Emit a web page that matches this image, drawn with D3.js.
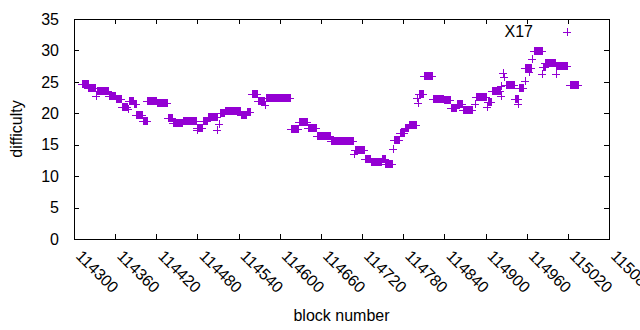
<!DOCTYPE html>
<html>
<head>
<meta charset="utf-8">
<script src="https://cdn.jsdelivr.net/npm/d3@7"></script>
<style>
  body { margin: 0; background: #fff; }
  text { font-family: "Liberation Sans", Arial, sans-serif; fill: #000; }
</style>
</head>
<body>
<div id="chart"></div>
<script>
// runs of consecutive blocks sharing one difficulty
const runStart = [
  114312, 114321, 114332, 114333, 114351, 114361, 114370, 114379, 114380, 114387,
  114391, 114400, 114407, 114421, 114437, 114444, 114459, 114479, 114480, 114488,
  114495, 114509, 114511, 114513, 114520, 114543, 114552, 114560, 114568, 114578,
  114580, 114616, 114628, 114641, 114654, 114674, 114708, 114709, 114724, 114733,
  114749, 114754, 114765, 114766, 114775, 114782, 114788, 114800, 114802, 114803,
  114810, 114823, 114839, 114850, 114858, 114867, 114885, 114886, 114902, 114903,
  114909, 114922, 114923, 114926, 114927, 114930, 114943, 114948, 114949, 114957,
  114958, 114963, 114968, 114971, 114983, 114984, 114987, 115002, 115003, 115023
];
const runEnd = [
  114320, 114331, 114332, 114350, 114360, 114369, 114377, 114379, 114386, 114390,
  114399, 114406, 114420, 114436, 114443, 114457, 114478, 114479, 114487, 114494,
  114508, 114509, 114511, 114519, 114542, 114551, 114557, 114567, 114577, 114578,
  114615, 114627, 114640, 114653, 114673, 114707, 114708, 114723, 114732, 114748,
  114753, 114764, 114765, 114774, 114781, 114787, 114799, 114800, 114802, 114809,
  114822, 114838, 114848, 114857, 114866, 114880, 114885, 114901, 114902, 114908,
  114921, 114922, 114923, 114926, 114927, 114942, 114947, 114948, 114955, 114957,
  114966, 114963, 114968, 114982, 114983, 114986, 115001, 115002, 115019, 115035
];
const runDifficulty = [
  24.7, 24.1, 22.8, 23.6, 22.8, 22.2, 21.0, 20.7, 21.9, 21.4,
  19.75, 18.7, 22.0, 21.65, 19.3, 18.5, 18.85, 17.3, 17.6, 18.7,
  19.4, 17.3, 18.3, 20.1, 20.3, 19.7, 20.2, 23.0, 22.0, 21.3,
  22.45, 17.5, 18.55, 17.6, 16.4, 15.6, 13.5, 14.2, 12.8, 12.3,
  12.8, 12.0, 14.3, 15.7, 16.8, 17.7, 18.2, 22.4, 21.6, 23.1,
  25.95, 22.3, 22.1, 20.9, 21.4, 20.5, 21.5, 22.65, 21.0, 21.8,
  23.5, 24.4, 22.8, 26.4, 25.8, 24.5, 22.2, 21.5, 24.0, 25.2,
  27.2, 26.6, 28.6, 29.9, 26.3, 27.4, 27.95, 26.3, 27.45, 24.5
];

const xTicks = d3.range(114300, 115081, 60);
const yTicks = [0, 5, 10, 15, 20, 25, 30, 35];
const seriesName = 'X17';

const width = 640;
const height = 330;
const margin = { left: 74, top: 19, right: 31, bottom: 91 };
const purple = '#9400d3';

// one point per block
const points = [];
runStart.forEach((s, i) => {
  for (let b = s; b <= runEnd[i]; b++) {
    points.push({ block: b, difficulty: runDifficulty[i] });
  }
});

const xScale = d3.scaleLinear()
  .domain([114300, 115080])
  .range([margin.left, width - margin.right]);
const yScale = d3.scaleLinear()
  .domain([0, 35])
  .range([height - margin.bottom, margin.top]);

const svg = d3.select('#chart')
  .append('svg')
  .attr('width', width)
  .attr('height', height);

const x0 = margin.left, x1 = width - margin.right;
const y0 = height - margin.bottom, y1 = margin.top;
const tickLen = 5;

const axes = svg.append('g')
  .attr('stroke', '#000')
  .attr('stroke-width', 1)
  .attr('shape-rendering', 'crispEdges');

// ticks on all four sides, pointing in
xTicks.forEach(t => {
  const x = Math.round(xScale(t)) + 0.5;
  axes.append('line').attr('x1', x).attr('x2', x).attr('y1', y0).attr('y2', y0 - tickLen);
  axes.append('line').attr('x1', x).attr('x2', x).attr('y1', y1).attr('y2', y1 + tickLen);
});
yTicks.forEach(t => {
  const y = Math.round(yScale(t)) + 0.5;
  axes.append('line').attr('x1', x0).attr('x2', x0 + tickLen).attr('y1', y).attr('y2', y);
  axes.append('line').attr('x1', x1).attr('x2', x1 - tickLen).attr('y1', y).attr('y2', y);
});

axes.append('rect')
  .attr('x', x0 + 0.5)
  .attr('y', y1 + 0.5)
  .attr('width', x1 - x0)
  .attr('height', y0 - y1)
  .attr('fill', 'none');

svg.append('g')
  .selectAll('text')
  .data(yTicks)
  .join('text')
  .attr('x', 59)
  .attr('y', d => yScale(d))
  .attr('dy', '0.36em')
  .attr('text-anchor', 'end')
  .style('font-size', '16px')
  .text(d => d);

svg.append('g')
  .selectAll('text')
  .data(xTicks)
  .join('text')
  .attr('transform', d => `translate(${xScale(d) + 1}, 257) rotate(45)`)
  .attr('text-anchor', 'start')
  .style('font-size', '16px')
  .text(d => d);

svg.append('text')
  .attr('x', (x0 + x1) / 2)
  .attr('y', 321)
  .attr('text-anchor', 'middle')
  .style('font-size', '16px')
  .text('block number');

svg.append('text')
  .attr('transform', `translate(22, ${(y0 + y1) / 2}) rotate(-90)`)
  .attr('text-anchor', 'middle')
  .style('font-size', '16px')
  .text('difficulty');

const cross = 'M-4,0.5H4M0.5,-4V4';

svg.append('g')
  .attr('stroke', purple)
  .attr('stroke-width', 1)
  .attr('fill', 'none')
  .attr('shape-rendering', 'crispEdges')
  .selectAll('path')
  .data(points)
  .join('path')
  .attr('transform', d => `translate(${Math.round(xScale(d.block))}, ${Math.round(yScale(d.difficulty))})`)
  .attr('d', cross);

// key
svg.append('text')
  .attr('x', 533)
  .attr('y', 37)
  .attr('text-anchor', 'end')
  .style('font-size', '16px')
  .text(seriesName);
svg.append('path')
  .attr('transform', 'translate(567, 32)')
  .attr('d', cross)
  .attr('stroke', purple)
  .attr('shape-rendering', 'crispEdges');
</script>
</body>
</html>
